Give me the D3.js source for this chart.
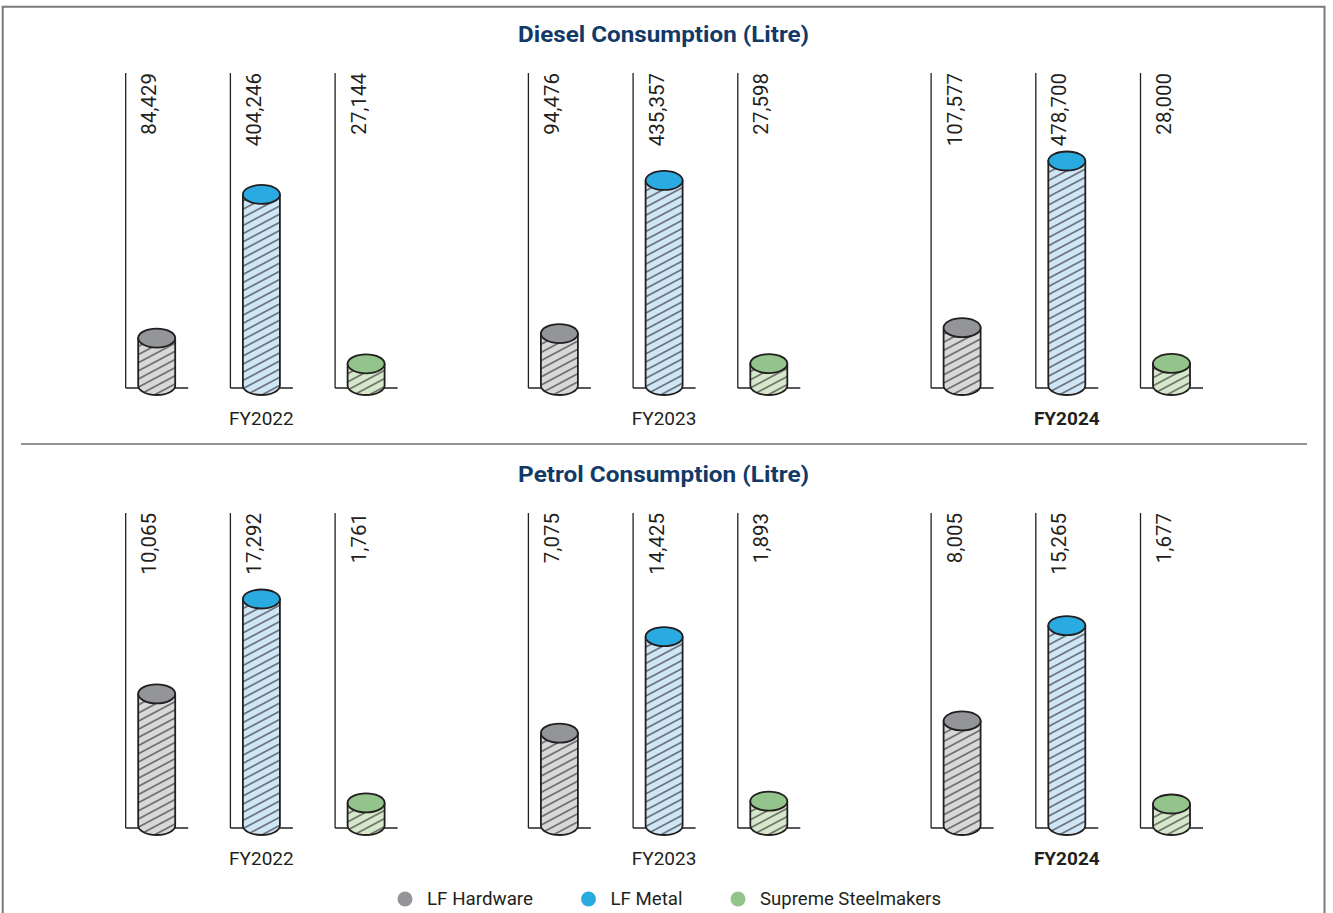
<!DOCTYPE html>
<html>
<head>
<meta charset="utf-8">
<script src="https://cdn.jsdelivr.net/npm/d3@7"></script>
<style>
  html, body { margin: 0; padding: 0; background: #ffffff; }
  svg { display: block; }
</style>
</head>
<body>
<svg id="chart" width="1333" height="913"></svg>
<script>
// ---------------- DATA ----------------
const years = ["FY2022", "FY2023", "FY2024"];
const seriesNames = ["LF Hardware", "LF Metal", "Supreme Steelmakers"];

const dieselLFHardware = [84429, 94476, 107577];
const dieselLFMetal = [404246, 435357, 478700];
const dieselSupreme = [27144, 27598, 28000];

const petrolLFHardware = [10065, 7075, 8005];
const petrolLFMetal = [17292, 14425, 15265];
const petrolSupreme = [1761, 1893, 1677];

const chartTitles = ["Diesel Consumption (Litre)", "Petrol Consumption (Litre)"];
const highlightYear = "FY2024";

// ---------------- STYLE ----------------
const topColors = { "LF Hardware": "#949598", "LF Metal": "#29abe2", "Supreme Steelmakers": "#93c48b" };
const bodyColors = { "LF Hardware": "#d8d8d8", "LF Metal": "#cfe6f6", "Supreme Steelmakers": "#d5e8cb" };
const legendTextWidths = [106, 72, 181];
const ink = "#231f20";
const font = "Roboto, 'Open Sans', sans-serif";

const svg = d3.select("#chart");
const defs = svg.append("defs");

seriesNames.forEach((s, i) => {
  const p = defs.append("pattern")
    .attr("id", "hatch" + i)
    .attr("patternUnits", "userSpaceOnUse")
    .attr("width", 8).attr("height", 7.2)
    .attr("patternTransform", "rotate(-28)");
  p.append("rect").attr("width", 8).attr("height", 7.2).attr("fill", bodyColors[s]);
  p.append("line").attr("x1", 0).attr("x2", 8).attr("y1", 3.6).attr("y2", 3.6)
    .attr("stroke", ink).attr("stroke-width", 1);
});

// frame
svg.append("path")
  .attr("d", "M2.7,920 L2.7,6.7 L1324.5,6.7 L1324.5,920")
  .attr("fill", "none").attr("stroke", "#7a7a7a").attr("stroke-width", 2);
// divider
svg.append("line").attr("x1", 21).attr("x2", 1307).attr("y1", 444).attr("y2", 444)
  .attr("stroke", "#6f6f6f").attr("stroke-width", 1.6);

// x scales
const xGroup = d3.scaleBand().domain(years).range([125.7, 125.7 + 3 * 402.7]).padding(0);
const xSub = d3.scaleBand().domain(seriesNames).range([0, 314.1]).padding(0);

const panels = [
  { offset: 0, title: chartTitles[0], data: [dieselLFHardware, dieselLFMetal, dieselSupreme],
    y: d3.scaleLinear().domain([0, d3.max(dieselLFMetal)]).range([376, 161]) },
  { offset: 440, title: chartTitles[1], data: [petrolLFHardware, petrolLFMetal, petrolSupreme],
    y: d3.scaleLinear().domain([0, d3.max(petrolLFMetal)]).range([386, 159]) }
];

const rx = 18.5, ry = 9.5;
const fmt = d3.format(",");

panels.forEach(panel => {
  const g = svg.append("g").attr("transform", `translate(0,${panel.offset})`);
  g.append("text")
    .attr("x", 663.6).attr("y", 42)
    .attr("text-anchor", "middle")
    .attr("font-family", font).attr("font-weight", 700).attr("font-size", 21.5)
    .attr("textLength", 291).attr("lengthAdjust", "spacingAndGlyphs")
    .attr("fill", "#123a68")
    .text(panel.title);

  years.forEach((yr, yi) => {
    seriesNames.forEach((s, si) => {
      const v = panel.data[si][yi];
      const x0 = xGroup(yr) + xSub(s);
      const cx = x0 + 31;
      const baseY = 388;
      const bottomC = 385.5;
      const topC = panel.y(v);
      const bar = g.append("g");
      // axis lines
      bar.append("line").attr("x1", x0).attr("x2", x0).attr("y1", 73).attr("y2", baseY)
        .attr("stroke", ink).attr("stroke-width", 1.3);
      bar.append("line").attr("x1", x0).attr("x2", x0 + 62.5).attr("y1", baseY).attr("y2", baseY)
        .attr("stroke", ink).attr("stroke-width", 1.3);
      // value label
      bar.append("text")
        .attr("transform", `translate(${x0 + 30.5},73) rotate(-90)`)
        .attr("text-anchor", "end")
        .attr("font-family", font).attr("font-weight", 400).attr("font-size", 20.5)
        .attr("fill", ink)
        .text(fmt(v));
      // cylinder body
      const bodyPath = `M${cx - rx},${topC} L${cx - rx},${bottomC} A${rx},${ry} 0 0 0 ${cx + rx},${bottomC} L${cx + rx},${topC} Z`;
      bar.append("path").attr("d", bodyPath)
        .attr("fill", `url(#hatch${si})`)
        .attr("stroke", ink).attr("stroke-width", 1.8).attr("stroke-linejoin", "round");
      bar.append("ellipse").attr("cx", cx).attr("cy", topC).attr("rx", rx).attr("ry", ry)
        .attr("fill", topColors[s]).attr("stroke", ink).attr("stroke-width", 1.8);
    });
    g.append("text")
      .attr("x", xGroup(yr) + xSub(seriesNames[1]) + 31).attr("y", 425)
      .attr("text-anchor", "middle")
      .attr("font-family", font).attr("font-size", 19)
      .attr("font-weight", yr === highlightYear ? 700 : 400)
      .attr("fill", ink)
      .text(yr);
  });
});

// legend
const legend = svg.append("g");
let lx = 0;
seriesNames.forEach((s, i) => {
  const item = legend.append("g").attr("transform", `translate(${lx},0)`);
  item.append("circle").attr("cx", 0).attr("cy", 0).attr("r", 7.5).attr("fill", topColors[s]);
  item.append("text").attr("x", 22).attr("y", 6)
    .attr("font-family", font).attr("font-size", 17.5).attr("fill", ink)
    .attr("textLength", legendTextWidths[i]).attr("lengthAdjust", "spacingAndGlyphs")
    .text(s);
  lx += 22 + legendTextWidths[i] + 55.5;
});
legend.attr("transform", `translate(405,899)`);
</script>
</body>
</html>
